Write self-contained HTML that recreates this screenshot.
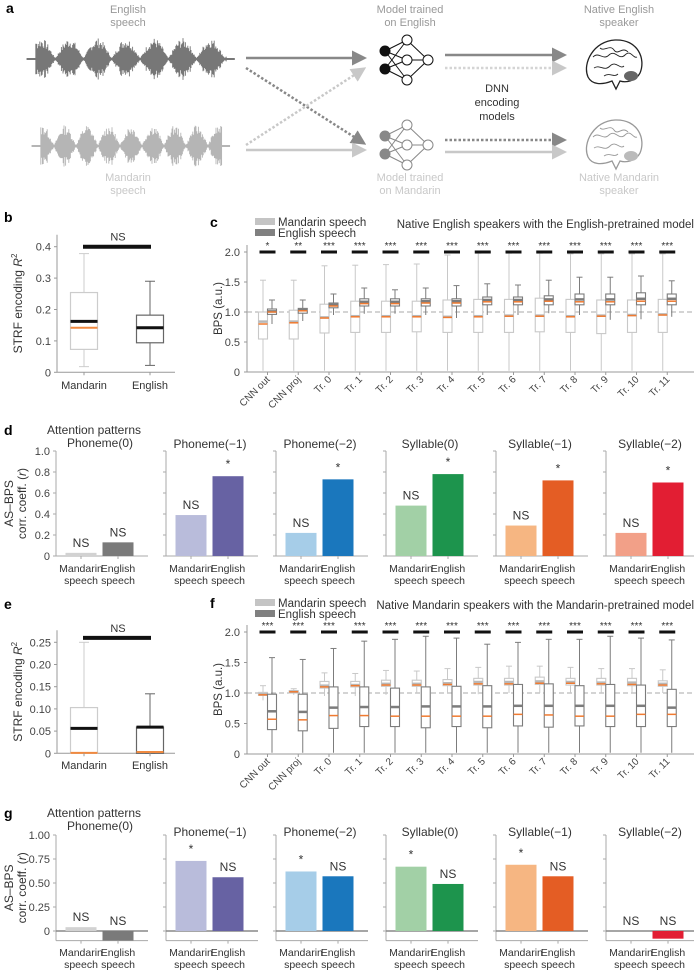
<!DOCTYPE html>
<html><head><meta charset="utf-8"><style>
html,body{margin:0;padding:0;background:#fff}
svg{display:block;font-family:"Liberation Sans",sans-serif}
</style></head><body>
<svg id="fig" width="694" height="970" viewBox="0 0 694 970" xmlns="http://www.w3.org/2000/svg"></svg>
<script>
// ---------- data ----------
const layers=["CNN out","CNN proj","Tr. 0","Tr. 1","Tr. 2","Tr. 3","Tr. 4","Tr. 5","Tr. 6","Tr. 7","Tr. 8","Tr. 9","Tr. 10","Tr. 11"];
const cSig=["*","**","***","***","***","***","***","***","***","***","***","***","***","***"];
const fSig=["***","***","***","***","***","***","***","***","***","***","***","***","***","***"];
// panel c: Mandarin speech
const cManLo=[0.55,0.55,0.65,0.66,0.66,0.67,0.66,0.66,0.66,0.67,0.66,0.64,0.66,0.66];
const cManHi=[1.0,1.03,1.13,1.18,1.18,1.18,1.2,1.21,1.21,1.23,1.21,1.2,1.2,1.21];
const cManMed=[0.84,0.84,0.91,0.93,0.93,0.93,0.92,0.93,0.94,0.94,0.93,0.94,0.95,0.96];
const cManMean=[0.8,0.82,0.9,0.92,0.92,0.92,0.91,0.92,0.93,0.93,0.92,0.93,0.94,0.95];
const cManWhi=[1.53,1.53,1.77,1.78,1.79,1.8,1.95,1.98,1.98,1.98,1.97,1.97,1.97,1.97];
// panel c: English speech
const cEngLo=[0.96,0.98,1.07,1.1,1.1,1.1,1.1,1.12,1.12,1.12,1.12,1.12,1.12,1.12];
const cEngHi=[1.05,1.06,1.15,1.22,1.22,1.22,1.22,1.25,1.25,1.27,1.3,1.3,1.32,1.3];
const cEngMed=[1.01,1.03,1.12,1.17,1.17,1.18,1.18,1.2,1.2,1.21,1.21,1.21,1.22,1.22];
const cEngMean=[1.0,1.02,1.1,1.14,1.14,1.15,1.15,1.17,1.17,1.18,1.17,1.17,1.18,1.18];
const cEngWlo=[0.8,0.85,0.95,0.97,0.97,0.95,0.9,0.95,0.95,0.98,0.95,0.87,0.88,0.92];
const cEngWhi=[1.2,1.2,1.3,1.4,1.37,1.4,1.44,1.47,1.45,1.53,1.58,1.58,1.6,1.52];
// panel f: Mandarin speech
const fManLo=[0.96,1.0,1.08,1.1,1.11,1.11,1.12,1.13,1.13,1.14,1.13,1.13,1.12,1.11];
const fManHi=[1.01,1.04,1.19,1.19,1.21,1.21,1.22,1.24,1.24,1.26,1.24,1.24,1.24,1.2];
const fManMed=[0.98,1.02,1.12,1.13,1.15,1.15,1.16,1.18,1.18,1.19,1.18,1.17,1.17,1.15];
const fManMean=[0.97,1.02,1.1,1.12,1.13,1.13,1.14,1.15,1.15,1.16,1.16,1.15,1.14,1.13];
const fManWlo=[0.88,0.97,0.95,0.95,0.97,1.0,1.0,0.98,1.0,1.0,1.0,1.0,1.0,1.0];
const fManWhi=[1.12,1.07,1.33,1.32,1.37,1.36,1.4,1.42,1.44,1.44,1.42,1.4,1.4,1.38];
// panel f: English speech
const fEngLo=[0.4,0.38,0.42,0.45,0.45,0.43,0.45,0.43,0.46,0.44,0.46,0.45,0.45,0.45];
const fEngHi=[0.98,0.98,1.1,1.1,1.08,1.1,1.11,1.12,1.14,1.15,1.12,1.14,1.13,1.06];
const fEngMed=[0.7,0.69,0.76,0.77,0.77,0.78,0.78,0.78,0.79,0.79,0.79,0.79,0.79,0.76];
const fEngMean=[0.57,0.56,0.63,0.63,0.62,0.62,0.62,0.62,0.65,0.64,0.62,0.62,0.65,0.65];
const fEngWhi=[1.58,1.55,1.73,1.85,1.88,1.93,1.9,1.8,1.83,1.88,1.88,1.93,1.9,1.87];
// panels b, e: STRF [whisLo, boxLo, median, boxHi, whisHi, mean]
const bMandarin=[0.018,0.073,0.162,0.254,0.378,0.142];
const bEnglish=[0.022,0.094,0.142,0.182,0.29,0.142];
const eMandarin=[0.0,0.0,0.056,0.103,0.25,0.001];
const eEnglish=[0.0,0.0,0.059,0.059,0.134,0.003];
// panels d, g
const patterns=["Phoneme(0)","Phoneme(\u22121)","Phoneme(\u22122)","Syllable(0)","Syllable(\u22121)","Syllable(\u22122)"];
const dMandarin=[0.03,0.39,0.22,0.48,0.29,0.22];
const dEnglish=[0.13,0.76,0.73,0.78,0.72,0.70];
const dManSig=["NS","NS","NS","NS","NS","NS"];
const dEngSig=["NS","*","*","*","*","*"];
const gMandarin=[0.04,0.73,0.62,0.67,0.69,0.0];
const gEnglish=[-0.1,0.56,0.57,0.49,0.57,-0.08];
const gManSig=["NS","*","*","*","*","NS"];
const gEngSig=["NS","NS","NS","NS","NS","NS"];
const manColors=["#d2d2d2","#b9bcdb","#a6cde8","#a2d0a6","#f6b682","#f2a088"];
const engColors=["#7a7a7a","#6762a3","#1a77bd","#1d944d","#e45d24","#e21e33"];

// ---------- helpers ----------
const svg=document.getElementById('fig');
const NS="http://www.w3.org/2000/svg";
function el(tag,attrs,parent,text){const e=document.createElementNS(NS,tag);for(const k in attrs)e.setAttribute(k,attrs[k]);if(text!==undefined)e.textContent=text;(parent||svg).appendChild(e);return e;}
function grp(name){const g=el('g',{});


return g;}
function txt(g,x,y,s,size,fill,anchor,weight,name){const t=el('text',{x:x,y:y,'font-size':size,fill:fill,'text-anchor':anchor||'middle','font-weight':weight||'normal'},g,s);


return t;}
function line(g,x1,y1,x2,y2,stroke,w,dash){const a={x1:x1,y1:y1,x2:x2,y2:y2,stroke:stroke,'stroke-width':w};if(dash)a['stroke-dasharray']=dash;return el('line',a,g);}

// ---------- panel a ----------
(function(){
 const g=grp('panel-a-schematic');
 txt(g,6,13,'a',14,'#000','start','bold','panel-label-a');
 txt(g,128,13,'English',11,'#999','middle','normal','english-speech-label');
 txt(g,128,26,'speech',11,'#999');
 txt(g,128,181,'Mandarin',11,'#c8c8c8','middle','normal','mandarin-speech-label');
 txt(g,128,194,'speech',11,'#c8c8c8');
 txt(g,410,13,'Model trained',11,'#999','middle','normal','english-model-label');
 txt(g,410,26,'on English',11,'#999');
 txt(g,410,181,'Model trained',11,'#c8c8c8','middle','normal','mandarin-model-label');
 txt(g,410,194,'on Mandarin',11,'#c8c8c8');
 txt(g,619,13,'Native English',11,'#999','middle','normal','native-english-label');
 txt(g,619,26,'speaker',11,'#999');
 txt(g,619,181,'Native Mandarin',11,'#c8c8c8','middle','normal','native-mandarin-label');
 txt(g,619,194,'speaker',11,'#c8c8c8');
 txt(g,497,92,'DNN',11,'#333','middle','normal','dnn-label');
 txt(g,497,106,'encoding',11,'#333');
 txt(g,497,120,'models',11,'#333');
 function wave(y,x0,x1,col,seed,per){let s=seed,d='';for(let x=x0;x<=x1;x+=0.8){s=(s*9301+49297)%233280;const r=s/233280;const env=Math.pow(Math.abs(Math.sin((x-x0)/per)),1.2);const a=(x<x0+8||x>x1-8)?1:env*(0.5+0.5*r)*20+1;d+=`M${x.toFixed(1)} ${(y-a).toFixed(1)}V${(y+a).toFixed(1)}`;}el('path',{d:d,stroke:col,'stroke-width':0.9},g);}
 wave(59,27,235,'#777',7,9);wave(146,32,230,'#b5b5b5',13,7);
 line(g,27,59,235,59,'#777',1);line(g,32,146,230,146,'#b5b5b5',1);
 el('defs',{},g).innerHTML='<marker id="ah1" markerWidth="6" markerHeight="6" refX="4" refY="3" orient="auto"><path d="M0,0L6,3L0,6z" fill="#888"/></marker><marker id="ah2" markerWidth="6" markerHeight="6" refX="4" refY="3" orient="auto"><path d="M0,0L6,3L0,6z" fill="#c8c8c8"/></marker>';
 function arr(x1,y1,x2,y2,c,dash,m){const a={x1:x1,y1:y1,x2:x2,y2:y2,stroke:c,'stroke-width':2.5,'marker-end':'url(#'+m+')'};if(dash)a['stroke-dasharray']=dash;el('line',a,g);}
 arr(246,58,362,58,'#888',null,'ah1');
 arr(246,68,362,142,'#888','2.5,2','ah1');
 arr(246,145,362,70,'#c8c8c8','2.5,2','ah2');
 arr(246,150,362,150,'#c8c8c8',null,'ah2');
 arr(445,55,562,55,'#888',null,'ah1');
 arr(445,68,562,68,'#d4d4d4','2.5,2','ah2');
 arr(445,140,562,140,'#888','2.5,2','ah1');
 arr(445,152,562,152,'#c8c8c8',null,'ah2');
 function net(y0,c,fill){const L=[[385,y0-9],[385,y0+9]],M=[[407,y0-20],[407,y0],[407,y0+20]],O=[[428,y0]];
  L.forEach(a=>M.forEach(b=>line(g,a[0],a[1],b[0],b[1],c,1)));M.forEach(a=>line(g,a[0],a[1],O[0][0],O[0][1],c,1));
  L.forEach(p=>el('circle',{cx:p[0],cy:p[1],r:5,fill:fill,stroke:c},g));M.concat(O).forEach(p=>el('circle',{cx:p[0],cy:p[1],r:5,fill:'#fff',stroke:c},g));}
 net(60,'#111','#111');net(145,'#888','#888');
 function brain(y0,c){el('path',{d:`M588 ${y0+14}C582 ${y0} 594 ${y0-22} 615 ${y0-23}C638 ${y0-24} 646 ${y0-4} 640 ${y0+10}C636 ${y0+18} 626 ${y0+20} 620 ${y0+18}L616 ${y0+26}L612 ${y0+18}C602 ${y0+22} 592 ${y0+22} 588 ${y0+14}Z`,fill:'#fff',stroke:c,'stroke-width':1.3},g);
  el('path',{d:`M593 ${y0-6}c6 -6 10 4 16 -2s10 6 16 0s8 4 12 2M594 ${y0+5}c6 -4 10 4 16 -2s10 4 14 0M600 ${y0-15}c4 4 10 -4 14 2s8 -4 14 2M604 ${y0+13}c6 -4 10 2 14 -2`,fill:'none',stroke:c,'stroke-width':0.9},g);
  el('ellipse',{cx:631,cy:y0+13,rx:7,ry:5,fill:c==='#222'?'#666':'#bbb'},g);}
 brain(63,'#222');brain(143,'#999');
})();

// ---------- box panels b, e ----------
function strfPanel(name,letter,ly,x0,yZero,pxPerUnit,ticks,tickFmt,man,eng,barVal,labelsY){
 const g=grp(name);
 const Y=v=>yZero-v*pxPerUnit;
 txt(g,4,ly,letter,14,'#000','start','bold','panel-label-'+letter);
 const top=Y(ticks[ticks.length-1])-12;
 line(g,x0,top,x0,yZero,'#999',1);line(g,x0,yZero,175,yZero,'#999',1);
 ticks.forEach(t=>{line(g,x0-3,Y(t),x0,Y(t),'#999',1);txt(g,x0-6,Y(t)+4,tickFmt(t),11,'#444','end','normal','y-tick-label');});
 const cx=[84,150];
 [man,eng].forEach((d,i)=>{const c=i?'#666':'#ccc';
  line(g,cx[i],Y(d[0]),cx[i],Y(d[1]),c,1);line(g,cx[i],Y(d[3]),cx[i],Y(d[4]),c,1);
  line(g,cx[i]-5,Y(d[0]),cx[i]+5,Y(d[0]),c,1);line(g,cx[i]-5,Y(d[4]),cx[i]+5,Y(d[4]),c,1);
  const r=el('rect',{x:cx[i]-13.5,y:Y(d[3]),width:27,height:Math.max(0.5,Y(d[1])-Y(d[3])),fill:'none',stroke:c,'stroke-width':1.2},g);
  
  
  line(g,cx[i]-13.5,Y(d[5]),cx[i]+13.5,Y(d[5]),'#f08a40',2);
  line(g,cx[i]-13.5,Y(d[2]),cx[i]+13.5,Y(d[2]),'#111',3);
  line(g,cx[i],yZero,cx[i],yZero+3,'#999',1);
 });
 line(g,cx[0]-1,Y(barVal),cx[1]+1,Y(barVal),'#111',4);
 txt(g,118,Y(barVal)-6,'NS',11,'#333','middle','normal','significance-label');
 txt(g,cx[0],labelsY,'Mandarin',11,'#333','middle','normal','x-tick-label');
 txt(g,cx[1],labelsY,'English',11,'#333','middle','normal','x-tick-label');
 const yl=el('text',{x:0,y:0,'font-size':12,fill:'#333','text-anchor':'middle',transform:`translate(22 ${(top+yZero)/2}) rotate(-90)`},g);
 yl.innerHTML='STRF encoding <tspan font-style="italic">R</tspan><tspan font-size="8" dy="-5">2</tspan>';
 
 
}
strfPanel('panel-b','b',222,57,372.3,314,[0,0.1,0.2,0.3,0.4],t=>t===0?'0':t.toFixed(1),bMandarin,bEnglish,0.4,389);
strfPanel('panel-e','e',609,57,753.3,444,[0,0.05,0.1,0.15,0.2,0.25],t=>t===0?'0':t.toFixed(2),eMandarin,eEnglish,0.26,769);

// ---------- layer box panels c, f ----------
function layerPanel(name,letter,ly,yTop,yZero,pxPerUnit,title,man,eng,sig){
 const g=grp(name);
 const Y=v=>yZero-v*pxPerUnit;
 const X=i=>267.5+i*30.75;
 txt(g,210,ly,letter,14,'#000','start','bold','panel-label-'+letter);
 const l1=el('rect',{x:255,y:ly-9,width:20,height:7,fill:'#c4c4c4'},g);
 
 
 const l2=el('rect',{x:255,y:ly+2,width:20,height:7,fill:'#808080'},g);
 
 
 txt(g,278,ly-1,'Mandarin speech',11.5,'#333','start','normal','legend-entry-mandarin');
 txt(g,278,ly+10,'English speech',11.5,'#333','start','normal','legend-entry-english');
 txt(g,694,ly+1,title,11.5,'#333','end','normal','chart-title');
 line(g,247,yTop,247,yZero,'#999',1);line(g,247,yZero,694,yZero,'#999',1);
 [0,0.5,1,1.5,2].forEach(t=>{line(g,244,Y(t),247,Y(t),'#999',1);txt(g,240,Y(t)+4,t===0?'0':t.toFixed(1),11,'#444','end','normal','y-tick-label');});
 line(g,247,Y(1),694,Y(1),'#aaa',1,'5,3');
 const yl=txt(g,0,0,'BPS (a.u.)',11.5,'#333','middle','normal','y-axis-title');
 yl.setAttribute('transform',`translate(222 ${(yTop+yZero)/2}) rotate(-90)`);
 layers.forEach((lab,i)=>{
  const gc=X(i);
  const sets=[[man,-4.5,'#c8c8c8','#b8b8b8'],[eng,4.5,'#7c7c7c','#7c7c7c']];
  sets.forEach(([d,off,c,mc])=>{const x=gc+off;
   line(g,x,Y(d.wlo[i]),x,Y(d.lo[i]),c,1);line(g,x,Y(d.hi[i]),x,Y(d.whi[i]),c,1);
   line(g,x-3,Y(d.whi[i]),x+3,Y(d.whi[i]),c,1);
   const r=el('rect',{x:x-4.5,y:Y(d.hi[i]),width:9,height:Y(d.lo[i])-Y(d.hi[i]),fill:'#fff',stroke:c,'stroke-width':1.1},g);
   
   
   line(g,x-4.5,Y(d.med[i]),x+4.5,Y(d.med[i]),mc,2.5);
   line(g,x-4.5,Y(d.mean[i]),x+4.5,Y(d.mean[i]),'#f07a30',1.5);
  });
  line(g,gc-8,Y(2),gc+8,Y(2),'#111',3);
  txt(g,gc,Y(2)-3,sig[i],10,'#333','middle','normal','significance-stars');
  line(g,gc,yZero,gc,yZero+3,'#999',1);
  const t=txt(g,0,0,lab,10,'#444','end','normal','x-tick-label');
  t.setAttribute('transform',`translate(${gc+3} ${yZero+8}) rotate(-45)`);
 });
}
layerPanel('panel-c','c',227,245,372,60,'Native English speakers with the English-pretrained model',
 {lo:cManLo,hi:cManHi,med:cManMed,mean:cManMean,wlo:cManLo.map(()=>0.02),whi:cManWhi},
 {lo:cEngLo,hi:cEngHi,med:cEngMed,mean:cEngMean,wlo:cEngWlo,whi:cEngWhi},cSig);
layerPanel('panel-f','f',608,625,754,61,'Native Mandarin speakers with the Mandarin-pretrained model',
 {lo:fManLo,hi:fManHi,med:fManMed,mean:fManMean,wlo:fManWlo,whi:fManWhi},
 {lo:fEngLo,hi:fEngHi,med:fEngMed,mean:fEngMean,wlo:fEngLo.map(()=>0.02),whi:fEngWhi},fSig);

// ---------- bar panels d, g ----------
function barPanel(name,letter,ly,yZero,pxPerUnit,yMin,yMax,ticks,tickFmt,man,eng,manSig,engSig,zeroLine,titleY,labY){
 const g=grp(name);
 const Y=v=>yZero-v*pxPerUnit;
 txt(g,4,ly,letter,14,'#000','start','bold','panel-label-'+letter);
 txt(g,94,ly-1,'Attention patterns',12,'#333','middle','normal','attention-patterns-title');
 const yl=el('text',{x:0,y:0,'font-size':12,fill:'#333','text-anchor':'middle',transform:`translate(13 ${(Y(yMax)+Y(yMin))/2}) rotate(-90)`},g);
 yl.innerHTML='<tspan x="0" dy="0">AS\u2013BPS</tspan><tspan x="0" dy="13">corr. coeff. (<tspan font-style="italic">r</tspan>)</tspan>';
 
 
 patterns.forEach((p,i)=>{
  const ax=56+110*i, sg=grp('subplot-'+i);g.appendChild(sg);
  txt(sg,ax+44,i===0?ly+12:titleY,p,12,'#333','middle','normal','subplot-title');
  line(sg,ax,Y(yMax),ax,Y(yMin),'#aaa',1);line(sg,ax,Y(yMin),ax+92,Y(yMin),'#aaa',1);
  ticks.forEach(t=>{line(sg,ax-3,Y(t),ax,Y(t),'#aaa',1);if(i===0)txt(sg,ax-6,Y(t)+4,tickFmt(t),11,'#444','end','normal','y-tick-label');});
  if(zeroLine)line(sg,ax,Y(0),ax+92,Y(0),'#888',1.5);
  [[man[i],manColors[i],ax+25,manSig[i],'Mandarin'],[eng[i],engColors[i],ax+62,engSig[i],'English']].forEach(([v,c,cx,s,lab])=>{
   const y0=Math.min(Y(0),Y(v)),h=Math.abs(Y(v)-Y(0));
   const r=el('rect',{x:cx-15.5,y:y0,width:31,height:Math.max(h,0.01),fill:c},sg);
   
   
   const ty=Y(Math.max(v,0))-(s==='*'?8:6);
   txt(sg,cx,ty,s,12,'#333','middle','normal','significance-label');
   line(sg,cx,Y(yMin),cx,Y(yMin)+3,'#aaa',1);
   txt(sg,cx,labY,lab,10.5,'#333','middle','normal','x-tick-label');
   txt(sg,cx,labY+12,'speech',10.5,'#333','middle','normal','x-tick-label');
  });
 });
}
barPanel('panel-d','d',435,556,105,0,1.0,[0,0.2,0.4,0.6,0.8,1.0],t=>t===0?'0':t.toFixed(1),dMandarin,dEnglish,dManSig,dEngSig,false,448,572);
barPanel('panel-g','g',818,931,96,-0.1,1.0,[0,0.25,0.5,0.75,1.0],t=>t===0?'0':t.toFixed(2),gMandarin,gEnglish,gManSig,gEngSig,true,836,956);
</script>
</body></html>
